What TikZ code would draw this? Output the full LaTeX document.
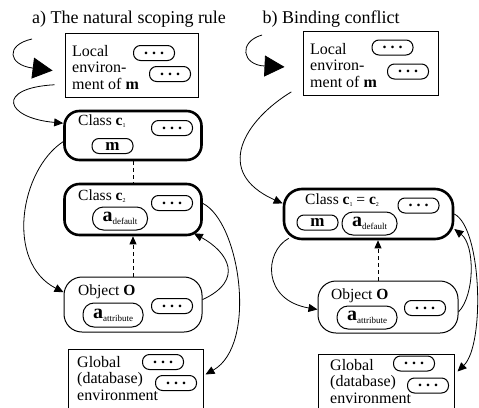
\documentclass[tikz,border=0pt]{standalone}
\usepackage{fontspec}
\setmainfont{Liberation Serif}
\usetikzlibrary{arrows.meta}

\newcommand\csub[1]{\raisebox{-2pt}{\fontsize{6}{6}\selectfont #1}}
\newcommand\avar[1]{{\fontsize{20}{20}\selectfont\bfseries a}\raisebox{-3pt}{\fontsize{9}{9}\selectfont #1}}
\newcommand\dotsym{\textbf{.\hspace{4pt}.\hspace{4pt}.}}

\begin{document}
\begin{tikzpicture}[
  x=1pt, y=-1pt,
  paneltitle/.style={anchor=base, inner sep=0pt, font=\fontsize{18}{20}\selectfont},
  envbox/.style={draw, rectangle, line width=1pt, inner sep=0pt},
  classbox/.style={draw, rectangle, rounded corners=15pt, line width=2.6pt, inner sep=0pt},
  objbox/.style={draw, rectangle, rounded corners=18pt, line width=1pt, inner sep=0pt},
  pill/.style={draw, rectangle, rounded corners=7pt, line width=1pt, minimum width=41pt,
  minimum height=15pt, inner sep=0pt, font=\fontsize{16}{16}\selectfont},
  apill/.style={pill, rounded corners=11pt, minimum height=23pt},
  envtext/.style={anchor=north west, align=left, inner sep=0pt, font=\fontsize{16}{16.5}\selectfont},
  lbl/.style={anchor=base west, inner sep=0pt, font=\fontsize{15.5}{16}\selectfont},
  flow/.style={-{Triangle[length=9pt,width=8pt]}, line width=0.8pt},
  bigflow/.style={-{Triangle[length=20pt,width=21pt]}, line width=0.8pt},
  dashline/.style={dash pattern=on 4pt off 3pt, line width=0.8pt},
  dashflow/.style={dashline, -{Triangle[length=8pt,width=7pt]}}
]
\useasboundingbox (0,0) rectangle (479,407);

\node[paneltitle] (ttlA) at (129,23) {a) The natural scoping rule};

\node[envbox, minimum width=133pt, minimum height=64pt] (locA) at (131.5,65) {};
\node[envtext] (locAtxt) at (72,45) {Local\\environ-\\ment of \textbf{m}};
\node[pill] (locAp1) at (154,53) {\dotsym};
\node[pill] (locAp2) at (170,74) {\dotsym};

\node[classbox, minimum width=137pt, minimum height=49pt] (c1) at (133,135.5) {};
\node[lbl] (c1txt) at (78,125) {Class \textbf{c}\csub{1}};
\node[pill] (c1p) at (172,128) {\dotsym};
\node[pill, font=\fontsize{17}{17}\selectfont] (c1m) at (112.5,146) {\textbf{m}};

\node[classbox, minimum width=137pt, minimum height=51pt] (c2) at (133,209.5) {};
\node[lbl] (c2txt) at (78,200) {Class \textbf{c}\csub{2}};
\node[pill] (c2p) at (172,203) {\dotsym};
\node[apill, minimum width=55pt] (c2a) at (120,218.5) {\avar{default}};

\node[objbox, minimum width=138pt, minimum height=55pt] (objA) at (133,304.5) {};
\node[lbl] (objAtxt) at (78,295) {Object \textbf{O}};
\node[pill] (objAp) at (172,306) {\dotsym};
\node[apill, minimum width=60pt, minimum height=24pt] (objAa) at (113,315) {\avar{attribute}};

\node[envbox, minimum width=135pt, minimum height=64pt] (globA) at (135.5,381) {};
\node[envtext] (globAtxt) at (77,356) {Global\\(database)\\environment};
\node[pill] (globAp1) at (163,362) {\dotsym};
\node[pill] (globAp2) at (176,383) {\dotsym};

\coordinate (curlA) at (32,39);
\draw[bigflow, shorten >=12pt] (curlA) .. controls (5,45) and (8,65) .. (locA.186);
\draw[flow, shorten <=10pt] (locA.196) .. controls (-5,88) and (5,118) .. (c1.170);
\draw[flow] (c1.185) .. controls (20,170) and (5,262) .. (objA.170);
\draw[flow] (objA.4) .. controls (245,280) and (228,252) .. ([shift={(-9,-3)}]c2.south east);
\draw[flow] (c2.5) .. controls (240,222) and (258,345) .. ([shift={(2,26)}]globA.north east);
\draw[dashline] (c1) -- (c2);
\draw[dashflow] (objA) -- (c2);

\node[paneltitle] (ttlB) at (331,23) {b) Binding conflict};

\node[envbox, minimum width=135pt, minimum height=64pt] (locB) at (370.5,63) {};
\node[envtext] (locBtxt) at (310,43) {Local\\environ-\\ment of \textbf{m}};
\node[pill] (locBp1) at (392.5,47.5) {\dotsym};
\node[pill] (locBp2) at (408,71.5) {\dotsym};

\node[classbox, rounded corners=18pt, minimum width=169pt, minimum height=50pt] (cB) at (368.5,214) {};
\node[lbl] (cBtxt) at (305,204) {Class \textbf{c}\csub{1} = \textbf{c}\csub{2}};
\node[pill] (cBp) at (418.5,205.5) {\dotsym};
\node[pill, font=\fontsize{17}{17}\selectfont] (cBm) at (317.5,222.5) {\textbf{m}};
\node[apill, minimum width=55pt] (cBa) at (369.5,223.5) {\avar{default}};

\node[objbox, minimum width=140pt, minimum height=52pt] (objB) at (388,307) {};
\node[lbl] (objBtxt) at (331,299) {Object \textbf{O}};
\node[pill] (objBp) at (425,308) {\dotsym};
\node[apill, minimum width=60pt] (objBa) at (367,317.5) {\avar{attribute}};

\node[envbox, minimum width=136pt, minimum height=60pt] (globB) at (386,384) {};
\node[envtext] (globBtxt) at (330,359) {Global\\(database)\\environment};
\node[pill] (globBp1) at (414,363.5) {\dotsym};
\node[pill] (globBp2) at (428,385.5) {\dotsym};

\coordinate (curlB) at (262,35);
\draw[bigflow, shorten >=18pt] (curlB) .. controls (238,42) and (242,65) .. (locB.184);
\draw[flow, shorten <=13pt] (locB.198) .. controls (245,120) and (212,172) .. (cB.173);
\draw[flow] ([shift={(6,-2)}]cB.south west) .. controls (264,252) and (262,300) .. (objB.182);
\draw[flow] (objB.356) .. controls (475,295) and (475,245) .. ([shift={(0,15)}]cB.east);
\draw[flow] (cB.east) .. controls (482,228) and (485,345) .. ([shift={(3,18)}]globB.north east);
\draw[dashflow] ([xshift=-10pt]objB.north) -- ([xshift=-10pt]objB.north |- cB.south);

\end{tikzpicture}
\end{document}
